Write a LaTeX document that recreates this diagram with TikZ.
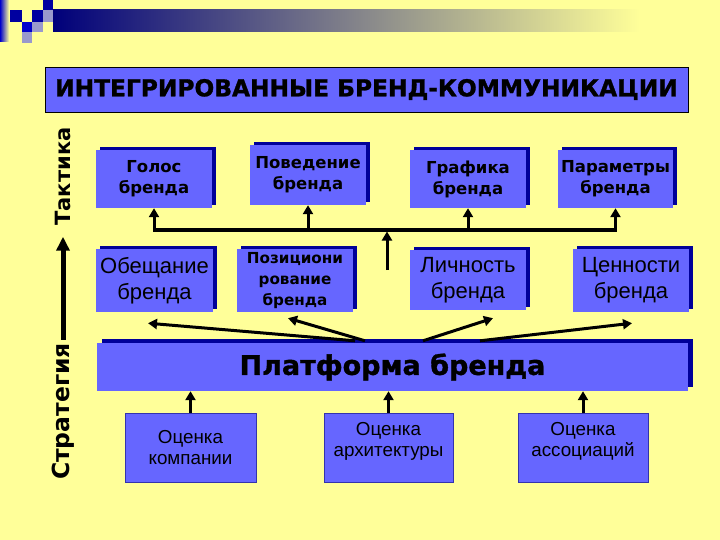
\documentclass[tikz,border=0pt]{standalone}
\usepackage{fontspec}
\setmainfont{Liberation Sans}
\newfontfamily\dvb{DejaVu Sans}
\newfontfamily\dvbh{DejaVu Sans}[FakeBold=1.2]
\usetikzlibrary{arrows.meta,calc,shadows}
\definecolor{bg}{HTML}{FFFF99}
\definecolor{boxblue}{HTML}{6666FF}
\definecolor{navy}{HTML}{000099}
\definecolor{deco}{HTML}{0000A0}
\definecolor{decolight}{HTML}{9999CC}
\tikzset{
  basebox/.style={fill=boxblue, inner sep=1pt, align=center, text=black},
  shbox/.style={basebox, general shadow={fill=navy, shadow xshift=4pt, shadow yshift=3pt}},
  topfont/.style={font=\dvb\bfseries\fontsize{16.5}{21}\selectfont},
  midfont/.style={font=\fontsize{22}{26}\selectfont},
  posfont/.style={font=\dvb\bfseries\fontsize{15.2}{21}\selectfont},
  botbox/.style={basebox, draw=navy!80, line width=0.7pt, minimum height=69pt,
     font=\fontsize{18.8}{21}\selectfont},
  sidelabel/.style={font=\dvb\bfseries\fontsize{21}{24}\selectfont, inner sep=1pt, rotate=90},
  conn/.style={line width=3pt, draw=black, line join=miter},
  tip/.style={-{Triangle[length=9pt,width=10pt]}},
}
\begin{document}
\begin{tikzpicture}[x=1pt,y=-1pt]
\useasboundingbox (0,0) rectangle (720,540);
\fill[bg] (0,0) rectangle (720,540);
% top-left decoration
\shade[left color=blue!80!black, right color=bg] (0,0) rectangle (9,42);
\shade[left color=navy!80!black, right color=bg] (53,10) rectangle (640,32);
\fill[deco] (10,10) rectangle (22,22);
\fill[deco] (32,10) rectangle (43,22);
\fill[deco] (43,0) rectangle (53,10);
\fill[decolight] (43,10) rectangle (53,22);
\fill[blue!80!black] (22,22) rectangle (32,32);
\fill[decolight] (32,22) rectangle (43,32);
\fill[decolight] (22,32) rectangle (32,43);
% title
\node[basebox, draw=black, line width=0.8pt, minimum width=643pt, minimum height=45pt,
      font=\dvbh\bfseries\fontsize{23.3}{28}\selectfont] (title) at (366.5,89.5)
      {ИНТЕГРИРОВАННЫЕ БРЕНД-КОММУНИКАЦИИ};
% side labels
\node[sidelabel] (takt) at (63,176.5) {Тактика};
\node[sidelabel, font=\dvb\bfseries\fontsize{23.5}{26}\selectfont] (strat) at (63,411.5) {Стратегия};
\draw[line width=5pt, -{Triangle[length=14pt,width=13pt]}, shorten >=10pt, shorten <=2pt]
  (strat.east) -- (takt.west);
% top row
\node[shbox, topfont, minimum width=116pt, minimum height=58pt] (golos) at (154,179) {Голос\\бренда};
\node[shbox, topfont, minimum width=116pt, minimum height=60pt] (poved) at (308,175) {Поведение\\бренда};
\node[shbox, topfont, minimum width=116pt, minimum height=58pt] (graf) at (468,179) {Графика\\бренда};
\node[shbox, topfont, minimum width=115pt, minimum height=58pt] (param) at (615.5,179) {Параметры\\бренда};
% second row
\node[shbox, midfont, minimum width=117pt, minimum height=63pt] (obesh) at (154.5,280.5) {Обещание\\бренда};
\node[shbox, posfont, minimum width=116pt, minimum height=63pt] (poz) at (295,280.5) {Позициони\\рование\\бренда};
\node[shbox, midfont, minimum width=116pt, minimum height=60pt] (lich) at (468,280) {Личность\\бренда};
\node[shbox, midfont, minimum width=116pt, minimum height=63pt] (cen) at (631,280.5) {Ценности\\бренда};
% platform
\node[basebox, general shadow={fill=navy, shadow xshift=5pt, shadow yshift=4pt},
      minimum width=591pt, minimum height=48pt,
      font=\dvbh\bfseries\fontsize{27}{30}\selectfont] (plat) at (392.5,367) {Платформа бренда};
% bottom row
\node[botbox, minimum width=131pt] (komp) at (190.5,447.5) {Оценка\\компании};
\node[botbox, minimum width=129pt, text depth=17pt] (arch) at (388.5,447.5) {Оценка\\архитектуры};
\node[botbox, minimum width=130pt, text depth=17pt] (assoc) at (583,447.5) {Оценка\\ассоциаций};
% connectors top
\coordinate (hl) at (387,230);
\draw[conn, {Triangle[length=9pt,width=10pt]}-{Triangle[length=9pt,width=10pt]}]
  (golos.south) -- (golos.south |- hl) -- (param.south |- hl) -- (param.south);
\draw[conn, tip] (poved.south |- hl) -- (poved.south);
\draw[conn, tip] (graf.south |- hl) -- (graf.south);
\coordinate (midbot) at (387,270);
\draw[conn, tip, shorten >=1.5pt] (midbot) -- (midbot |- hl);
% platform to second row
\draw[conn, tip] ($(plat.north)+(-37.5,-2)$) -- ($(obesh.south)+(-6.5,11)$);
\draw[conn, tip] ($(plat.north)+(-27.5,-2)$) -- ($(poz.south)+(-7,6)$);
\draw[conn, tip] ($(plat.north)+(30.5,-2)$) -- ($(lich.south)+(25,8)$);
\draw[conn, tip] ($(plat.north)+(87.5,-2)$) -- ($(cen.south)+(1,11)$);
% bottom to platform
\draw[conn, tip] (komp.north) -- (komp.north |- plat.south);
\draw[conn, tip] (arch.north) -- (arch.north |- plat.south);
\draw[conn, tip] (assoc.north) -- (assoc.north |- plat.south);
\end{tikzpicture}
\end{document}
